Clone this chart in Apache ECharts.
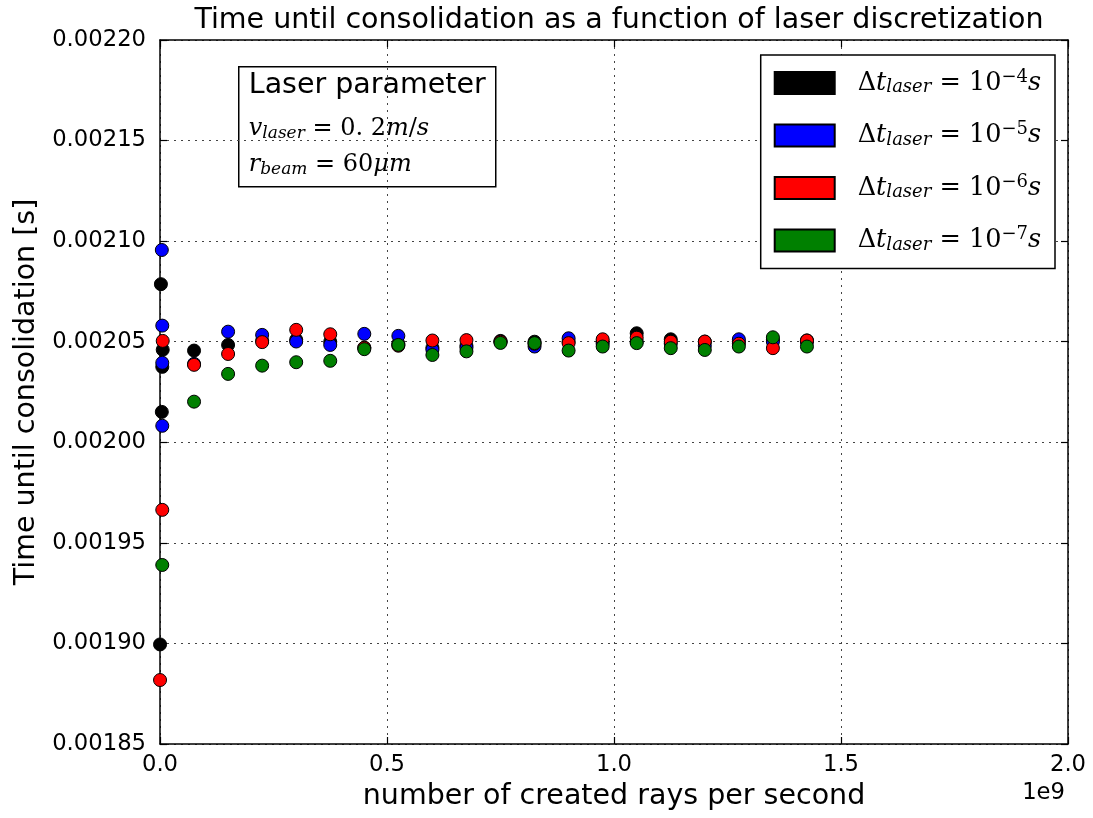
<!DOCTYPE html>
<html>
<head>
<meta charset="utf-8">
<script src="https://cdn.jsdelivr.net/npm/echarts@6/dist/echarts.min.js"></script>
<style>
  html, body { margin: 0; padding: 0; background: #fff; }
  #chart { width: 1093px; height: 818px; }
</style>
</head>
<body>
<div id="chart"></div>
<script>
// Rays per second for the regular sweep (in units of 1e9)
const sweepRays = [0.075, 0.15, 0.225, 0.3, 0.375, 0.45, 0.525, 0.6, 0.675, 0.75,
                   0.825, 0.9, 0.975, 1.05, 1.125, 1.2, 1.275, 1.35, 1.425];

// Consolidation time [s] along the sweep, one array per laser time step
const sweepDt4 = [0.0020456, 0.0020484, 0.0020505, 0.0020510, 0.0020500, 0.0020470, 0.0020490, 0.0020470, 0.0020480, 0.0020504,
                  0.0020500, 0.0020500, 0.0020500, 0.0020542, 0.0020512, 0.0020500, 0.0020500, 0.0020510, 0.0020506];
const sweepDt5 = [0.0020390, 0.0020550, 0.0020534, 0.0020501, 0.0020484, 0.0020539, 0.0020529, 0.0020460, 0.0020470, 0.0020500,
                  0.0020476, 0.0020517, 0.0020490, 0.0020500, 0.0020490, 0.0020480, 0.0020512, 0.0020500, 0.0020500];
const sweepDt6 = [0.0020385, 0.0020439, 0.0020498, 0.0020559, 0.0020537, 0.0020470, 0.0020480, 0.0020506, 0.0020508, 0.0020500,
                  0.0020490, 0.0020493, 0.0020512, 0.0020520, 0.0020500, 0.0020501, 0.0020490, 0.0020468, 0.0020506];
const sweepDt7 = [0.0020202, 0.0020340, 0.0020381, 0.0020398, 0.0020405, 0.0020463, 0.0020484, 0.0020434, 0.0020452, 0.0020494,
                  0.0020493, 0.0020456, 0.0020476, 0.0020493, 0.0020468, 0.0020459, 0.0020476, 0.0020522, 0.0020476];

// Very low ray counts (rays per second, absolute) and their consolidation times
const lowRaysDt4 = [1e5, 2e6, 4e6, 5e6, 6e6];
const lowTimeDt4 = [0.0018995, 0.0020786, 0.0020151, 0.0020375, 0.0020460];
const lowRaysDt5 = [4e6, 5e6, 5e6, 5e6];
const lowTimeDt5 = [0.0020956, 0.0020082, 0.0020580, 0.0020395];
const lowRaysDt6 = [1e5, 5e6, 6e6];
const lowTimeDt6 = [0.0018818, 0.0019664, 0.0020504];
const lowRaysDt7 = [5e6];
const lowTimeDt7 = [0.0019390];

// Legend: exponent of the laser time step
const stepExponents = [-4, -5, -6, -7];
const seriesNames = ['dt 1e-4 s', 'dt 1e-5 s', 'dt 1e-6 s', 'dt 1e-7 s'];
const seriesColors = ['#000000', '#0000ff', '#ff0000', '#008000'];

// Axis ticks
const yTicks = { min: 0.00185, max: 0.00220, step: 0.00005 };
const xTicks = { min: 0, max: 2e9, step: 0.5e9 };

function buildPoints(lowX, lowY, sweepY) {
  const pts = lowX.map((x, i) => [x, lowY[i]]);
  sweepRays.forEach((r, i) => pts.push([r * 1e9, sweepY[i]]));
  return pts;
}

const seriesData = [
  buildPoints(lowRaysDt4, lowTimeDt4, sweepDt4),
  buildPoints(lowRaysDt5, lowTimeDt5, sweepDt5),
  buildPoints(lowRaysDt6, lowTimeDt6, sweepDt6),
  buildPoints(lowRaysDt7, lowTimeDt7, sweepDt7)
];

const SANS = '"DejaVu Sans", sans-serif';
const SERIF = '"DejaVu Serif", "Liberation Serif", serif';
const BIG = 28.5;
const TICK = 22.7;
const gridLine = { show: true, lineStyle: { color: '#444', width: 1, type: [2, 5] } };
const frame = { show: true, onZero: false, lineStyle: { color: '#000', width: 1.5 } };
const tickIn = { show: true, inside: true, length: 7, lineStyle: { color: '#000', width: 1.2 } };

// Rich-text styles for the math-like labels
function mathStyles(main, small) {
  return {
    n:   { fontFamily: SERIF, fontSize: main, color: '#000', lineHeight: 30 },
    it:  { fontFamily: SERIF, fontSize: main, fontStyle: 'italic', color: '#000', lineHeight: 30 },
    sub: { fontFamily: SERIF, fontSize: small, fontStyle: 'italic', color: '#000', lineHeight: 30, padding: [9, 0, 0, 0] },
    sup: { fontFamily: SERIF, fontSize: small, color: '#000', lineHeight: 30, padding: [0, 0, 12, 0] }
  };
}
const boxRich = mathStyles(24, 17);
const legendRich = mathStyles(25.5, 18);

const chart = echarts.init(document.getElementById('chart'), null, { renderer: 'canvas' });

chart.setOption({
  animation: false,
  backgroundColor: '#fff',
  title: {
    text: 'Time until consolidation as a function of laser discretization',
    left: 614, top: 1, textAlign: 'center',
    textStyle: { fontFamily: SANS, fontSize: BIG, fontWeight: 'normal', color: '#000' }
  },
  grid: { left: 160, right: 25, top: 40, bottom: 74, containLabel: false },
  legend: {
    right: 38, top: 55,
    orient: 'vertical',
    icon: 'rect',
    itemWidth: 60, itemHeight: 22, itemGap: 22.5,
    padding: [13, 14, 13, 13],
    borderColor: '#000', borderWidth: 1.5, borderRadius: 0,
    backgroundColor: '#fff',
    data: seriesNames,
    formatter: name => {
      const e = stepExponents[seriesNames.indexOf(name)];
      return '{n|Δ}{it|t}{sub|laser}{n| = 10}{sup|−' + Math.abs(e) + '}{it|s}';
    },
    textStyle: { rich: legendRich, padding: [0, 0, 0, 18] }
  },
  xAxis: [{
    type: 'value', min: xTicks.min, max: xTicks.max, interval: xTicks.step,
    name: 'number of created rays per second', nameLocation: 'middle', nameGap: 38,
    nameTextStyle: { fontFamily: SANS, fontSize: BIG, color: '#000' },
    axisLine: frame, axisTick: tickIn, splitLine: gridLine,
    axisLabel: { fontFamily: SANS, fontSize: TICK, color: '#000', margin: 10,
                 formatter: v => (v / 1e9).toFixed(1) }
  }, {
    type: 'value', position: 'top', min: xTicks.min, max: xTicks.max, interval: xTicks.step,
    axisLine: frame, axisTick: tickIn, splitLine: { show: false }, axisLabel: { show: false }
  }],
  yAxis: [{
    type: 'value', min: yTicks.min, max: yTicks.max, interval: yTicks.step,
    name: 'Time until consolidation [s]', nameLocation: 'middle', nameGap: 118,
    nameTextStyle: { fontFamily: SANS, fontSize: BIG, color: '#000' },
    axisLine: frame, axisTick: tickIn, splitLine: gridLine,
    axisLabel: { fontFamily: SANS, fontSize: TICK, color: '#000', margin: 14,
                 formatter: v => v.toFixed(5) }
  }, {
    type: 'value', position: 'right', min: yTicks.min, max: yTicks.max, interval: yTicks.step,
    axisLine: frame, axisTick: tickIn, splitLine: { show: false }, axisLabel: { show: false }
  }],
  graphic: [
    {
      type: 'group', left: 238, top: 66,
      children: [
        { type: 'rect', shape: { x: 0, y: 0, width: 257, height: 120 },
          style: { fill: '#fff', stroke: '#000', lineWidth: 1.5 } },
        { type: 'text', x: 10, y: 4,
          style: { text: 'Laser parameter', font: BIG + 'px ' + SANS, fill: '#000' } },
        { type: 'text', x: 10, y: 47,
          style: { text: '{it|v}{sub|laser}{n| = 0. 2}{it|m}{n|/}{it|s}', rich: boxRich } },
        { type: 'text', x: 10, y: 83,
          style: { text: '{it|r}{sub|beam}{n| = 60}{it|μm}', rich: boxRich } }
      ]
    },
    {
      type: 'text', right: 28, top: 782,
      style: { text: '1e9', font: TICK + 'px ' + SANS, fill: '#000' }
    }
  ],
  series: seriesNames.map((name, i) => ({
    name: name,
    type: 'scatter',
    xAxisIndex: 0, yAxisIndex: 0,
    data: seriesData[i],
    symbol: 'circle',
    symbolSize: 13,
    clip: false,
    itemStyle: { color: seriesColors[i], borderColor: '#000', borderWidth: 1, opacity: 1 },
    emphasis: { disabled: true },
    z: 2 + i
  }))
});
</script>
</body>
</html>
